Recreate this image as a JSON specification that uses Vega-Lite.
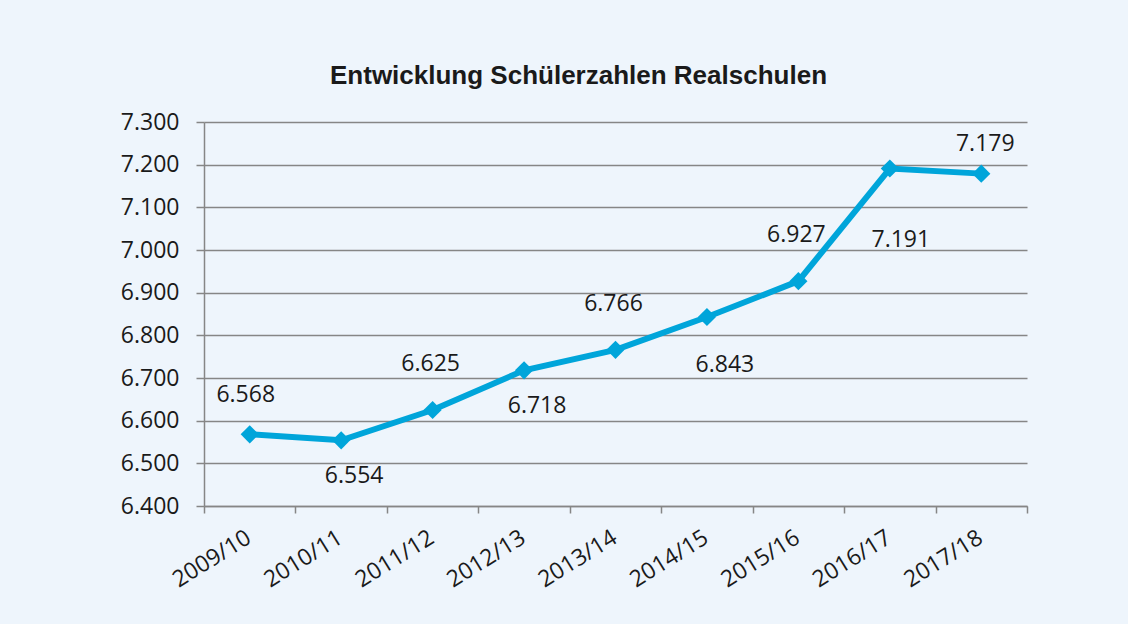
{
  "$schema": "https://vega.github.io/schema/vega-lite/v6.json",
  "width": 823,
  "height": 384,
  "autosize": "none",
  "padding": {"left": 204, "top": 122, "right": 101, "bottom": 118},
  "background": "#EEF5FC",
  "config": {
    "view": {"stroke": null},
    "font": "Open Sans",
    "locale": {"number": {"decimal": ",", "thousands": ".", "grouping": [3], "currency": ["", " €"]}}
  },
  "title": {
    "text": "Entwicklung Schülerzahlen Realschulen",
    "font": "Liberation Sans",
    "fontSize": 26,
    "fontWeight": "bold",
    "color": "#1a1a1a",
    "offset": 22,
    "dx": -37
  },
  "data": {
    "values": [
      {"jahr": "2009/10", "schueler": 6568},
      {"jahr": "2010/11", "schueler": 6554},
      {"jahr": "2011/12", "schueler": 6625},
      {"jahr": "2012/13", "schueler": 6718},
      {"jahr": "2013/14", "schueler": 6766},
      {"jahr": "2014/15", "schueler": 6843},
      {"jahr": "2015/16", "schueler": 6927},
      {"jahr": "2016/17", "schueler": 7191},
      {"jahr": "2017/18", "schueler": 7179}
    ]
  },
  "encoding": {
    "x": {
      "field": "jahr",
      "type": "ordinal",
      "sort": null,
      "scale": {"type": "band", "paddingInner": 0, "paddingOuter": 0},
      "axis": {
        "title": null,
        "grid": false,
        "tickBand": "extent",
        "domainColor": "#868686",
        "domainWidth": 1.5,
        "tickColor": "#868686",
        "tickWidth": 1.5,
        "tickSize": 7,
        "labelAngle": -32,
        "labelOffset": -7,
        "labelFontSize": 23,
        "labelColor": "#1a1a1a",
        "labelPadding": 13
      }
    },
    "y": {
      "field": "schueler",
      "type": "quantitative",
      "scale": {"domain": [6400, 7300], "nice": false, "zero": false},
      "axis": {
        "title": null,
        "values": [6400, 6500, 6600, 6700, 6800, 6900, 7000, 7100, 7200, 7300],
        "format": ",.0f",
        "domainColor": "#868686",
        "domainWidth": 1.5,
        "tickColor": "#868686",
        "tickWidth": 1.5,
        "tickSize": 8,
        "gridColor": "#868686",
        "gridWidth": 1.5,
        "labelFontSize": 23,
        "labelColor": "#1a1a1a",
        "labelPadding": 17
      }
    }
  },
  "layer": [
    {"mark": {"type": "line", "color": "#00A5DA", "strokeWidth": 6}},
    {"mark": {"type": "point", "shape": "diamond", "filled": true, "opacity": 1, "size": 330, "color": "#00A5DA"}},
    {
      "transform": [{"filter": {"field": "jahr", "oneOf": ["2011/12", "2013/14", "2015/16"]}}],
      "mark": {"type": "text", "fontSize": 23, "color": "#1a1a1a", "baseline": "middle", "dy": -46, "dx": -2},
      "encoding": {"text": {"field": "schueler", "type": "quantitative", "format": ",.0f"}}
    },
    {
      "transform": [{"filter": {"field": "jahr", "equal": "2009/10"}}],
      "mark": {"type": "text", "fontSize": 23, "color": "#1a1a1a", "baseline": "middle", "dy": -39, "dx": -4},
      "encoding": {"text": {"field": "schueler", "type": "quantitative", "format": ",.0f"}}
    },
    {
      "transform": [{"filter": {"field": "jahr", "oneOf": ["2010/11", "2012/13"]}}],
      "mark": {"type": "text", "fontSize": 23, "color": "#1a1a1a", "baseline": "middle", "dy": 36, "dx": 13},
      "encoding": {"text": {"field": "schueler", "type": "quantitative", "format": ",.0f"}}
    },
    {
      "transform": [{"filter": {"field": "jahr", "equal": "2014/15"}}],
      "mark": {"type": "text", "fontSize": 23, "color": "#1a1a1a", "baseline": "middle", "dy": 48, "dx": 18},
      "encoding": {"text": {"field": "schueler", "type": "quantitative", "format": ",.0f"}}
    },
    {
      "transform": [{"filter": {"field": "jahr", "equal": "2016/17"}}],
      "mark": {"type": "text", "fontSize": 23, "color": "#1a1a1a", "baseline": "middle", "dy": 71, "dx": 11},
      "encoding": {"text": {"field": "schueler", "type": "quantitative", "format": ",.0f"}}
    },
    {
      "transform": [{"filter": {"field": "jahr", "equal": "2017/18"}}],
      "mark": {"type": "text", "fontSize": 23, "color": "#1a1a1a", "baseline": "middle", "dy": -30, "dx": 4},
      "encoding": {"text": {"field": "schueler", "type": "quantitative", "format": ",.0f"}}
    }
  ]
}
